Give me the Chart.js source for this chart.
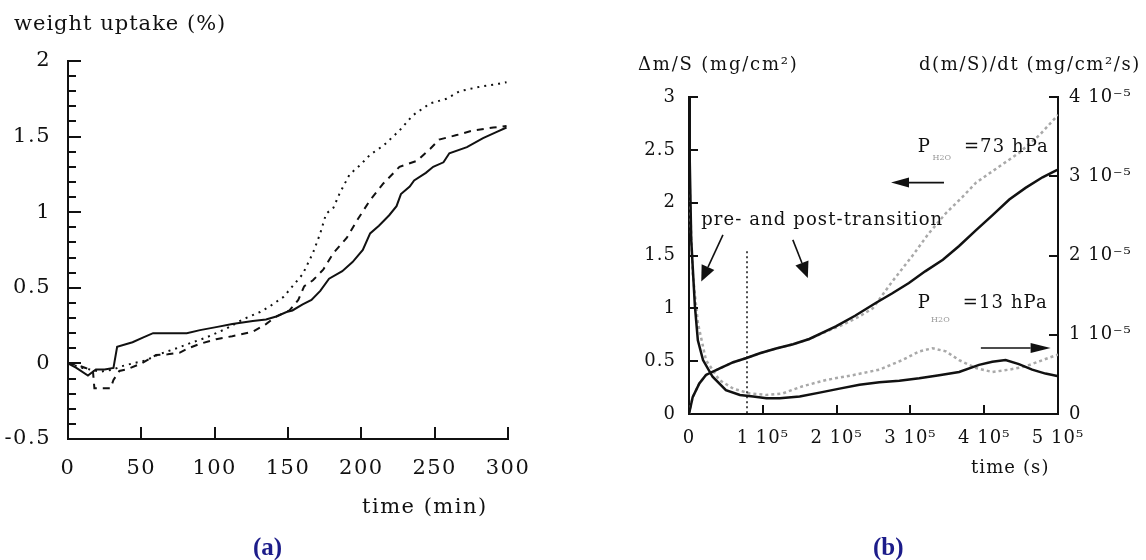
<!DOCTYPE html>
<html>
<head>
<meta charset="utf-8">
<script src="https://cdn.jsdelivr.net/npm/chart.js@4.4.0/dist/chart.umd.min.js"></script>
<style>
body{margin:0;width:1146px;height:560px;background:#fff;position:relative;overflow:hidden;font-family:"DejaVu Serif",serif;color:#111}
canvas{position:absolute;top:0}
#ca{left:0}
#cb{left:580px}
.t{position:absolute;white-space:nowrap;line-height:1}
.a{font-size:21px}
.b{font-size:18px}
.cap{font-family:"Liberation Serif",serif;color:#1c1c8a;font-weight:bold;font-size:25px}
</style>
</head>
<body>
<canvas id="ca" width="560" height="560"></canvas>
<canvas id="cb" width="566" height="560"></canvas>

<div class="t a" style="left:14px;top:13px;letter-spacing:1px">weight uptake (%)</div>
<div class="t a" style="left:362px;top:496px;letter-spacing:1.5px">time (min)</div>
<div class="t cap" style="left:253px;top:534px">(a)</div>

<div class="t b" style="left:638px;top:55px;letter-spacing:1.8px">Δm/S (mg/cm²)</div>
<div class="t b" style="left:919px;top:55px;letter-spacing:1.6px">d(m/S)/dt (mg/cm²/s)</div>
<div class="t b" style="left:971px;top:458px;letter-spacing:1.1px">time (s)</div>
<div class="t cap" style="left:873px;top:534px">(b)</div>

<script>
// panel (a): weight uptake (%) vs time (min), three runs
const tSolid = [0, 5.7, 13.6, 19, 25, 31, 33.5, 44, 51, 58, 72, 81, 90, 101, 112, 126, 135, 142, 149, 153, 160, 166, 172, 178, 187, 194, 201, 206, 212, 219, 224, 227, 233, 236, 244, 249, 256, 260, 272, 283, 292, 299];
const wSolid = [0, -0.03, -0.08, -0.04, -0.04, -0.03, 0.11, 0.14, 0.17, 0.2, 0.2, 0.2, 0.22, 0.24, 0.26, 0.28, 0.29, 0.31, 0.34, 0.35, 0.39, 0.42, 0.48, 0.56, 0.61, 0.67, 0.75, 0.86, 0.91, 0.98, 1.04, 1.12, 1.17, 1.21, 1.26, 1.30, 1.33, 1.39, 1.43, 1.49, 1.53, 1.56];

const tDash = [0, 6, 12, 17, 18, 29, 31, 35, 40, 50, 60, 68, 76, 82, 90, 101, 112, 126, 135, 142, 151, 157, 161, 167, 174, 181, 190, 198, 206, 215, 226, 238, 247, 253, 265, 276, 290, 299];
const wDash = [0, -0.01, -0.03, -0.05, -0.165, -0.165, -0.11, -0.05, -0.04, 0, 0.055, 0.06, 0.07, 0.1, 0.13, 0.16, 0.18, 0.21, 0.26, 0.31, 0.35, 0.42, 0.51, 0.55, 0.62, 0.73, 0.83, 0.96, 1.08, 1.19, 1.30, 1.34, 1.42, 1.48, 1.51, 1.54, 1.56, 1.57];

const tDot = [0, 10, 22, 31, 36, 44, 53, 62, 74, 85, 94, 108, 119, 131, 138, 147, 153, 160, 167, 172, 176, 181, 185, 192, 199, 206, 215, 226, 235, 247, 258, 267, 281, 294, 299];
const wDot = [0, -0.03, -0.055, -0.04, -0.02, 0, 0.02, 0.06, 0.1, 0.14, 0.17, 0.23, 0.29, 0.34, 0.38, 0.44, 0.51, 0.59, 0.73, 0.86, 0.99, 1.03, 1.12, 1.25, 1.31, 1.38, 1.44, 1.54, 1.64, 1.72, 1.75, 1.80, 1.83, 1.85, 1.86];

// panel (b): time in 1e5 s, mass gain in mg/cm2, rate in 1e-5 mg/cm2/s
const tMass73 = [0, 0.05, 0.14, 0.23, 0.41, 0.6, 0.78, 0.96, 1.18, 1.41, 1.63, 1.86, 2.1, 2.3, 2.49, 2.75, 3.03, 3.25, 3.48, 3.7, 3.89, 4.2, 4.47, 4.75, 5.0];
const mass73 = [0, 0.16, 0.29, 0.37, 0.43, 0.49, 0.53, 0.575, 0.62, 0.66, 0.71, 0.78, 0.85, 0.92, 1.0, 1.25, 1.5, 1.71, 1.9, 2.05, 2.19, 2.34, 2.47, 2.64, 2.83];

const tMass13 = [0, 0.05, 0.14, 0.23, 0.41, 0.6, 0.78, 0.96, 1.18, 1.41, 1.63, 1.99, 2.25, 2.53, 2.75, 2.98, 3.2, 3.44, 3.66, 3.89, 4.11, 4.34, 4.56, 4.79, 4.99];
const mass13 = [0, 0.16, 0.29, 0.37, 0.43, 0.49, 0.53, 0.575, 0.62, 0.66, 0.71, 0.83, 0.93, 1.05, 1.14, 1.24, 1.35, 1.46, 1.59, 1.74, 1.88, 2.03, 2.14, 2.24, 2.31];

const tRate13 = [0, 0.01, 0.03, 0.08, 0.12, 0.19, 0.32, 0.5, 0.69, 0.87, 1.05, 1.23, 1.5, 1.77, 2.04, 2.31, 2.58, 2.85, 3.12, 3.39, 3.66, 3.93, 4.11, 4.29, 4.47, 4.65, 4.83, 4.99];
const rate13 = [4.0, 3.2, 2.2, 1.36, 0.93, 0.68, 0.47, 0.30, 0.24, 0.22, 0.2, 0.2, 0.22, 0.27, 0.32, 0.37, 0.40, 0.42, 0.45, 0.49, 0.53, 0.62, 0.66, 0.68, 0.63, 0.56, 0.51, 0.48];

const tRate73 = [0, 0.02, 0.05, 0.12, 0.23, 0.41, 0.6, 0.82, 1.05, 1.27, 1.54, 1.86, 2.22, 2.58, 2.89, 3.12, 3.30, 3.48, 3.66, 3.89, 4.11, 4.34, 4.56, 4.79, 5.0];
const rate73 = [3.3, 2.5, 1.78, 1.15, 0.68, 0.43, 0.32, 0.26, 0.24, 0.26, 0.35, 0.43, 0.49, 0.56, 0.68, 0.79, 0.83, 0.79, 0.68, 0.58, 0.53, 0.56, 0.6, 0.68, 0.75];

const transitionTime = 0.785;

function pts(xs, ys) {
  return xs.map((x, i) => ({ x: x, y: ys[i] }));
}

const INK = "#111";
const GREY = "#a9a9a9";

function tickFont(size) {
  return { family: "DejaVu Serif", size: size };
}

// plain numbers: 2, 1.5, 1, 0.5 ...
function plain(v) {
  return String(Math.round(v * 100) / 100);
}

function spacing(px) {
  return {
    id: "spacing",
    beforeDraw(chart) { chart.ctx.letterSpacing = px; }
  };
}

function drawArrow(ctx, x1, y1, x2, y2, len, half) {
  const a = Math.atan2(y2 - y1, x2 - x1);
  const bx = x2 - len * Math.cos(a), by = y2 - len * Math.sin(a);
  ctx.beginPath();
  ctx.moveTo(x1, y1);
  ctx.lineTo(bx, by);
  ctx.stroke();
  ctx.beginPath();
  ctx.moveTo(x2, y2);
  ctx.lineTo(bx + half * Math.sin(a), by - half * Math.cos(a));
  ctx.lineTo(bx - half * Math.sin(a), by + half * Math.cos(a));
  ctx.closePath();
  ctx.fill();
}

// inward tick marks for (a)
const ticksA = {
  id: "ticksA",
  afterDraw(chart) {
    const { ctx, scales: { x, y } } = chart;
    ctx.save();
    ctx.strokeStyle = INK;
    ctx.lineWidth = 2;
    for (let i = 0; i <= 25; i++) {
      const py = Math.round(y.getPixelForValue(-0.5 + i * 0.1));
      const len = i % 5 === 0 ? 13 : 8;
      ctx.beginPath();
      ctx.moveTo(x.left, py);
      ctx.lineTo(x.left + len, py);
      ctx.stroke();
    }
    for (let v = 50; v <= 300; v += 50) {
      const px = Math.round(x.getPixelForValue(v));
      ctx.beginPath();
      ctx.moveTo(px, y.bottom);
      ctx.lineTo(px, y.bottom - 12);
      ctx.stroke();
    }
    ctx.restore();
  }
};

new Chart(document.getElementById("ca"), {
  type: "line",
  data: {
    datasets: [
      { label: "run 1", data: pts(tSolid, wSolid), borderColor: INK, borderWidth: 2 },
      { label: "run 2", data: pts(tDash, wDash), borderColor: INK, borderWidth: 2, borderDash: [7, 6] },
      { label: "run 3", data: pts(tDot, wDot), borderColor: INK, borderWidth: 2, borderDash: [2, 5] }
    ]
  },
  options: {
    responsive: false,
    animation: false,
    elements: { point: { radius: 0 }, line: { tension: 0 } },
    layout: { padding: { left: 0, top: 61, right: 52, bottom: 0 } },
    plugins: { legend: { display: false }, tooltip: { enabled: false } },
    scales: {
      x: {
        type: "linear", min: 0, max: 300,
        afterFit: s => { s.height = 121; },
        grid: { display: false, drawTicks: false },
        border: { display: true, width: 2, color: INK },
        ticks: { stepSize: 50, padding: 17, color: INK, font: tickFont(21) }
      },
      y: {
        min: -0.5, max: 2,
        afterFit: s => { s.width = 68; },
        grid: { display: false, drawTicks: false },
        border: { display: true, width: 2, color: INK },
        ticks: { stepSize: 0.5, padding: 17, color: INK, font: tickFont(21), callback: plain }
      }
    }
  },
  plugins: [spacing("1.5px"), ticksA]
});

// annotations for (b), placed in data coordinates (time 1e5 s, left axis value)
const arrowsB = [
  { from: [3.455, 2.19], to: [2.737, 2.19], len: 18, half: 5 },
  { from: [0.46, 1.695], to: [0.166, 1.253], len: 16, half: 7 },
  { from: [1.407, 1.648], to: [1.61, 1.288], len: 16, half: 7 },
  { from: [3.955, 0.625], to: [4.90, 0.625], len: 20, half: 5 }
];
const notesB = [
  { text: "P", t: 3.10, v: 2.48, size: 18, color: INK },
  { text: "H2O", t: 3.30, v: 2.40, size: 8, color: "#999" },
  { text: "=73 hPa", t: 3.725, v: 2.48, size: 18, color: INK },
  { text: "P", t: 3.10, v: 1.004, size: 18, color: INK },
  { text: "H2O", t: 3.28, v: 0.874, size: 8, color: "#999" },
  { text: "=13 hPa", t: 3.71, v: 1.004, size: 18, color: INK },
  { text: "pre- and post-transition", t: 0.166, v: 1.79, size: 18, color: INK }
];

const annotB = {
  id: "annotB",
  afterDraw(chart) {
    const { ctx, scales: { x, y, y2 } } = chart;
    ctx.save();
    ctx.strokeStyle = INK;
    ctx.fillStyle = INK;
    ctx.lineWidth = 2;
    // inward ticks
    for (let v = 0.5; v <= 3; v += 0.5) {
      const py = Math.round(y.getPixelForValue(v));
      ctx.beginPath(); ctx.moveTo(x.left, py); ctx.lineTo(x.left + 9, py); ctx.stroke();
    }
    for (let v = 1; v <= 4; v++) {
      const py = Math.round(y2.getPixelForValue(v));
      ctx.beginPath(); ctx.moveTo(x.right, py); ctx.lineTo(x.right - 9, py); ctx.stroke();
    }
    for (let v = 1; v <= 4; v++) {
      const px = Math.round(x.getPixelForValue(v));
      ctx.beginPath(); ctx.moveTo(px, y.bottom); ctx.lineTo(px, y.bottom - 9); ctx.stroke();
    }
    // transition marker
    ctx.lineWidth = 1.5;
    ctx.setLineDash([2, 3]);
    const tx = Math.round(x.getPixelForValue(transitionTime));
    ctx.beginPath();
    ctx.moveTo(tx, y.getPixelForValue(1.54));
    ctx.lineTo(tx, y.bottom);
    ctx.stroke();
    ctx.setLineDash([]);
    // arrows
    ctx.lineWidth = 1.6;
    arrowsB.forEach(a => {
      drawArrow(ctx,
        x.getPixelForValue(a.from[0]), y.getPixelForValue(a.from[1]),
        x.getPixelForValue(a.to[0]), y.getPixelForValue(a.to[1]), a.len, a.half);
    });
    // labels
    ctx.textBaseline = "alphabetic";
    ctx.textAlign = "left";
    notesB.forEach(n => {
      ctx.font = n.size + "px 'DejaVu Serif'";
      ctx.fillStyle = n.color;
      ctx.letterSpacing = n.size > 10 ? "1.1px" : "0px";
      ctx.fillText(n.text, x.getPixelForValue(n.t), y.getPixelForValue(n.v));
    });
    ctx.restore();
  }
};

new Chart(document.getElementById("cb"), {
  type: "line",
  data: {
    datasets: [
      { label: "rate 13 hPa", data: pts(tRate13, rate13), yAxisID: "y2", borderColor: INK, borderWidth: 2.5 },
      { label: "mass 13 hPa", data: pts(tMass13, mass13), yAxisID: "y", borderColor: INK, borderWidth: 2.5 },
      { label: "rate 73 hPa", data: pts(tRate73, rate73), yAxisID: "y2", borderColor: GREY, borderWidth: 2.5, borderDash: [3, 3] },
      { label: "mass 73 hPa", data: pts(tMass73, mass73), yAxisID: "y", borderColor: GREY, borderWidth: 2.5, borderDash: [3, 3] }
    ]
  },
  options: {
    responsive: false,
    animation: false,
    elements: { point: { radius: 0 }, line: { tension: 0 } },
    layout: { padding: { left: 0, top: 97, right: 0, bottom: 0 } },
    plugins: { legend: { display: false }, tooltip: { enabled: false } },
    scales: {
      x: {
        type: "linear", min: 0, max: 5,
        afterFit: s => { s.height = 146; },
        grid: { display: false, drawTicks: false },
        border: { display: true, width: 2, color: INK },
        ticks: { stepSize: 1, padding: 14, color: INK, font: tickFont(18),
          callback: v => v === 0 ? "0" : v + " 10\u2075" }
      },
      y: {
        position: "left", min: 0, max: 3,
        afterFit: s => { s.width = 109; },
        grid: { display: false, drawTicks: false },
        border: { display: true, width: 2, color: INK },
        ticks: { stepSize: 0.5, padding: 13, color: INK, font: tickFont(18), callback: plain }
      },
      y2: {
        position: "right", min: 0, max: 4,
        afterFit: s => { s.width = 88; },
        grid: { display: false, drawTicks: false },
        border: { display: true, width: 2, color: INK },
        ticks: { stepSize: 1, padding: 11, color: INK, font: tickFont(18),
          callback: v => v === 0 ? "0" : v + " 10\u207B\u2075" }
      }
    }
  },
  plugins: [spacing("1px"), annotB]
});
</script>
</body>
</html>
